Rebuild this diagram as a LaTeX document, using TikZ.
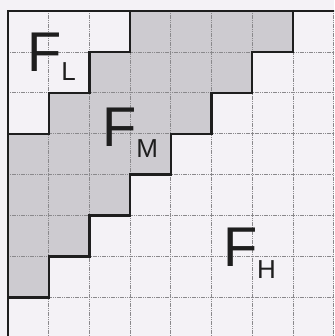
\documentclass[tikz,border=0pt]{standalone}
\usepackage{fontspec}
\setmainfont{Liberation Sans}
\definecolor{paper}{HTML}{F4F2F6}
\definecolor{midgray}{HTML}{CDCBD0}
\definecolor{gridc}{HTML}{8A898C}
\definecolor{ink}{HTML}{1E1E1E}
\begin{document}
\begin{tikzpicture}[x=40.7pt,y=-40.9pt,
  gridline/.style={gridc,line width=0.8pt,dash pattern=on 1.2pt off 0.6pt},
  bound/.style={ink,line width=2.4pt,line join=miter,line cap=rect},
  bigF/.style={ink,inner sep=0pt,font=\fontsize{56}{56}\selectfont},
  subl/.style={ink,inner sep=0pt,font=\fontsize{26}{26}\selectfont}]
\useasboundingbox[fill=paper] (-0.1966,-0.269) rectangle (8.010,7.946);
\clip (-0.1966,-0.269) rectangle (8.010,7.946);
% shaded middle region
\fill[midgray] (3,0) -- (7,0) -- (7,1) -- (6,1) -- (6,2) -- (5,2) -- (5,3) -- (4,3) -- (4,4)
  -- (3,4) -- (3,5) -- (2,5) -- (2,6) -- (1,6) -- (1,7) -- (0,7) -- (0,3) -- (1,3)
  -- (1,2) -- (2,2) -- (2,1) -- (3,1) -- cycle;
% grid
\foreach \i in {1,...,8} {
  \draw[gridline] (\i,0) -- (\i,8.2);
  \draw[gridline] (0,\i) -- (8.2,\i);
}
% outer border (top and left)
\draw[bound] (8.2,0) -- (0,0) -- (0,8.2);
% boundaries
\draw[bound] (0,3) -- (1,3) -- (1,2) -- (2,2) -- (2,1) -- (3,1) -- (3,0);
\draw[bound] (7,0) -- (7,1) -- (6,1) -- (6,2) -- (5,2) -- (5,3) -- (4,3) -- (4,4)
  -- (3,4) -- (3,5) -- (2,5) -- (2,6) -- (1,6) -- (1,7) -- (0,7);
% labels
\node[bigF] (fl) at (0.91,1.0) {F};
\node[subl] (fls) at (1.49,1.49) {L};
\node[bigF] (fm) at (2.74,2.84) {F};
\node[subl] (fms) at (3.42,3.37) {M};
\node[bigF] (fh) at (5.71,5.77) {F};
\node[subl] (fhs) at (6.35,6.32) {H};
\end{tikzpicture}
\end{document}
